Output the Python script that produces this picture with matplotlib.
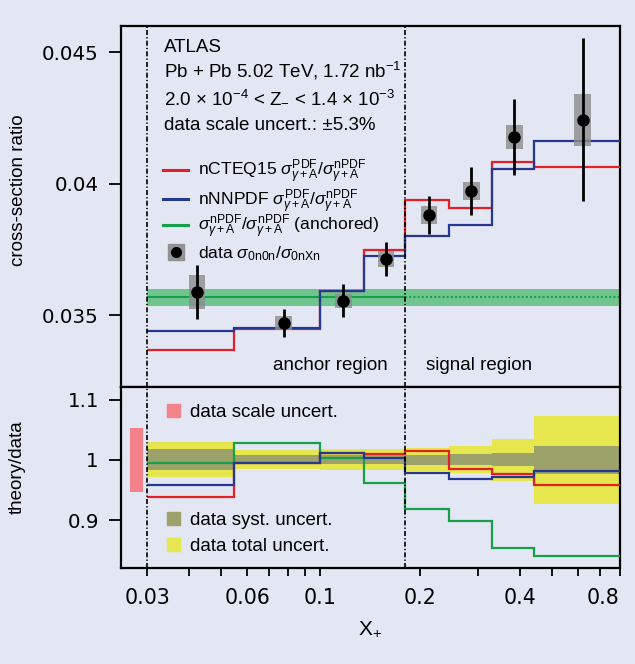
import numpy as np
import matplotlib
matplotlib.use('Agg')
import matplotlib.pyplot as plt
from matplotlib.lines import Line2D
from matplotlib.patches import Patch
from matplotlib.legend import Legend

plt.rcParams['font.family'] = ['Liberation Sans', 'DejaVu Sans']
plt.rcParams['mathtext.fontset'] = 'custom'
plt.rcParams['mathtext.rm'] = 'Liberation Sans'
plt.rcParams['mathtext.it'] = 'Liberation Sans:italic'
plt.rcParams['mathtext.bf'] = 'Liberation Sans:bold'

# bin edges in X+ and the anchor / signal boundary
edges = [0.03, 0.055, 0.1, 0.135, 0.18, 0.245, 0.33, 0.44, 0.8]
region_split = 0.18

# data sigma_0n0n / sigma_0nXn
x_data = [0.0424, 0.0774, 0.1173, 0.1577, 0.2126, 0.2858, 0.385, 0.62]
y_data = [0.03589, 0.03471, 0.03556, 0.03714, 0.03882, 0.03972, 0.04178, 0.04243]
err_tot = [0.00103, 0.00054, 0.00063, 0.00066, 0.00073, 0.00090, 0.00144, 0.00310]
err_syst = [0.00063, 0.00025, 0.00027, 0.00029, 0.00034, 0.00035, 0.00045, 0.00099]

# theory predictions per bin
ncteq15 = [0.03370, 0.03450, 0.03594, 0.03747, 0.03939, 0.03908, 0.04081, 0.04062]
nnnpdf = [0.03439, 0.03454, 0.03594, 0.03724, 0.03800, 0.03842, 0.04057, 0.04163]
anchored = 0.03568
anchored_err = 0.00033
scale_uncert = 0.053

xtick_vals = [0.03, 0.04, 0.05, 0.06, 0.07, 0.08, 0.09, 0.1, 0.2, 0.3, 0.4, 0.5, 0.6, 0.7, 0.8]
xtick_labels = ['0.03', '', '', '0.06', '', '', '', '0.1', '0.2', '', '0.4', '', '', '', '0.8']

bg = '#e3e6f3'
c_red = '#e41f26'
c_blue = '#27388f'
c_green = '#17a04a'
c_band = '#5cc07c'
c_yellow = '#e6e64e'
c_olive = '#9ca26a'
c_pink = '#f3828a'
c_box = '#8a8c8c'

x_data = np.array(x_data)
y_data = np.array(y_data)
err_tot = np.array(err_tot)
err_syst = np.array(err_syst)
ncteq15 = np.array(ncteq15)
nnnpdf = np.array(nnnpdf)

fig = plt.figure(figsize=(6.35, 6.64), dpi=100, facecolor=bg)
ax1 = fig.add_axes([0.1898, 0.4179, 0.7858, 0.5422], facecolor=bg)
ax2 = fig.add_axes([0.1898, 0.1446, 0.7858, 0.2733], facecolor=bg)

for ax in (ax1, ax2):
    ax.set_xscale('log')
    ax.set_xlim(0.0249, 0.8)
    for sp in ax.spines.values():
        sp.set_linewidth(1.6)
    ax.axvline(edges[0], color='k', lw=1.2, ls=(0, (3, 1.3, 0.8, 1.3)), zorder=6)
    ax.axvline(region_split, color='k', lw=1.2, ls=(0, (3, 1.3, 0.8, 1.3)), zorder=6)
    ax.tick_params(axis='y', direction='out', length=8.5, width=1.3, pad=7)
    ax.minorticks_off()

# ---- top panel ----
ax1.fill_between([edges[0], edges[-1]], anchored - anchored_err, anchored + anchored_err,
                 color=c_band, alpha=0.85, lw=0, zorder=1)
ax1.hlines(anchored, edges[0], region_split, color=c_green, lw=1.5, zorder=2)
ax1.hlines(anchored, region_split, edges[-1], color=c_green, lw=1.5, ls=(0, (1, 1)), zorder=2)
ax1.stairs(ncteq15, edges, baseline=None, color=c_red, lw=1.6, zorder=3)
ax1.stairs(nnnpdf, edges, baseline=None, color=c_blue, lw=1.6, zorder=3)

bw = 1.06
ax1.bar(x_data / bw, 2 * err_syst, width=x_data * bw - x_data / bw, bottom=y_data - err_syst,
        align='edge', color=c_box, alpha=0.8, lw=0, zorder=4)
ax1.errorbar(x_data, y_data, yerr=err_tot, fmt='o', color='k', ms=8, elinewidth=2.0,
             capsize=0, zorder=5)

ax1.set_ylim(0.0323, 0.04597)
ax1.set_yticks([0.035, 0.04, 0.045])
ax1.set_yticklabels(['0.035', '0.04', '0.045'], fontfamily='DejaVu Sans', fontsize=14.3)
ax1.set_xticks([])
ax1.set_ylabel('cross-section ratio', fontsize=13.5)
ax1.yaxis.set_label_coords(-0.187, 0.546)

txt_kw = dict(transform=ax1.transAxes, fontsize=13.5, va='baseline', ha='left')
ax1.text(0.087, 0.929, 'ATLAS', **txt_kw)
ax1.text(0.087, 0.859, 'Pb + Pb 5.02 TeV, 1.72 nb$^{-1}$', **txt_kw)
ax1.text(0.087, 0.787, '2.0 × 10$^{-4}$ < Z$_{-}$ < 1.4 × 10$^{-3}$', **txt_kw)
ax1.text(0.087, 0.7125, f'data scale uncert.: ±{scale_uncert * 100:.1f}%', **txt_kw)
ax1.text(0.305, 0.046, 'anchor region', transform=ax1.transAxes, fontsize=13.5, va='baseline')
ax1.text(0.612, 0.046, 'signal region', transform=ax1.transAxes, fontsize=13.5, va='baseline')

h_red = Line2D([], [], color=c_red, lw=2.2)
h_blue = Line2D([], [], color=c_blue, lw=2.2)
h_green = Line2D([], [], color=c_green, lw=2.2)
h_box = Line2D([], [], ls='none', marker='s', ms=11.5, color=c_box, alpha=0.9)
h_dot = Line2D([], [], ls='none', marker='o', ms=7, color='k')
handles1 = [h_red, h_blue, h_green, (h_box, h_dot)]
labels1 = [r'nCTEQ15 $\sigma^{\mathrm{PDF}}_{\gamma+\mathrm{A}}/\sigma^{\mathrm{nPDF}}_{\gamma+\mathrm{A}}$',
           r'nNNPDF $\sigma^{\mathrm{PDF}}_{\gamma+\mathrm{A}}/\sigma^{\mathrm{nPDF}}_{\gamma+\mathrm{A}}$',
           r'$\sigma^{\mathrm{nPDF}}_{\gamma+\mathrm{A}}/\sigma^{\mathrm{nPDF}}_{\gamma+\mathrm{A}}$ (anchored)',
           r'data $\sigma_{\mathrm{0n0n}}/\sigma_{\mathrm{0nXn}}$']
# one legend per row keeps the rows evenly spaced
leg_rows = [0.597, 0.514, 0.443, 0.369]
for h, lab, yy in zip(handles1, labels1, leg_rows):
    leg = Legend(ax1, [h], [lab], loc='center left', bbox_to_anchor=(0.085, yy),
                 frameon=False, fontsize=12.6, handlelength=1.45, handletextpad=0.55,
                 borderpad=0, borderaxespad=0)
    ax1.add_artist(leg)

# ---- bottom panel ----
rel_tot = err_tot / y_data
rel_syst = err_syst / y_data
ax2.stairs(1 + rel_tot, edges, baseline=1 - rel_tot, fill=True, color=c_yellow, lw=0, zorder=1)
ax2.stairs(1 + rel_syst, edges, baseline=1 - rel_syst, fill=True, color=c_olive, lw=0, zorder=2)
ax2.fill_between([0.0266, 0.0292], 1 - scale_uncert, 1 + scale_uncert, color=c_pink, lw=0, zorder=2)
ax2.stairs(anchored / y_data, edges, baseline=None, color=c_green, lw=1.6, zorder=3)
ax2.stairs(ncteq15 / y_data, edges, baseline=None, color=c_red, lw=1.6, zorder=3)
ax2.stairs(nnnpdf / y_data, edges, baseline=None, color=c_blue, lw=1.6, zorder=3)

ax2.set_ylim(0.8204, 1.1216)
ax2.set_yticks([0.9, 1.0, 1.1])
ax2.set_yticklabels(['0.9', '1', '1.1'], fontfamily='DejaVu Sans', fontsize=14.3)
ax2.set_xticks(xtick_vals)
ax2.set_xticklabels(xtick_labels, fontfamily='DejaVu Sans', fontsize=14.8)
ax2.tick_params(axis='x', direction='out', length=5.5, width=1.3, pad=9)
ax2.get_xticklabels()[-1].set_horizontalalignment('right')
ax2.set_ylabel('theory/data', fontsize=13.5)
ax2.yaxis.set_label_coords(-0.189, 0.556)
ax2.set_xlabel('X$_{+}$', fontsize=15, labelpad=8)

leg_a = Legend(ax2, [Patch(color=c_pink)], ['data scale uncert.'], loc='upper left',
               bbox_to_anchor=(0.093, 0.905), frameon=False, fontsize=13.5,
               handlelength=0.7, handleheight=0.7, handletextpad=0.55,
               borderpad=0, borderaxespad=0)
ax2.add_artist(leg_a)
leg_b = Legend(ax2, [Patch(color=c_olive), Patch(color=c_yellow)],
               ['data syst. uncert.', 'data total uncert.'], loc='upper left',
               bbox_to_anchor=(0.093, 0.31), frameon=False, fontsize=13.5,
               handlelength=0.7, handleheight=0.7, handletextpad=0.55,
               borderpad=0, borderaxespad=0, labelspacing=0.5)
ax2.add_artist(leg_b)

fig.savefig('out.png', dpi=100, facecolor=bg)
